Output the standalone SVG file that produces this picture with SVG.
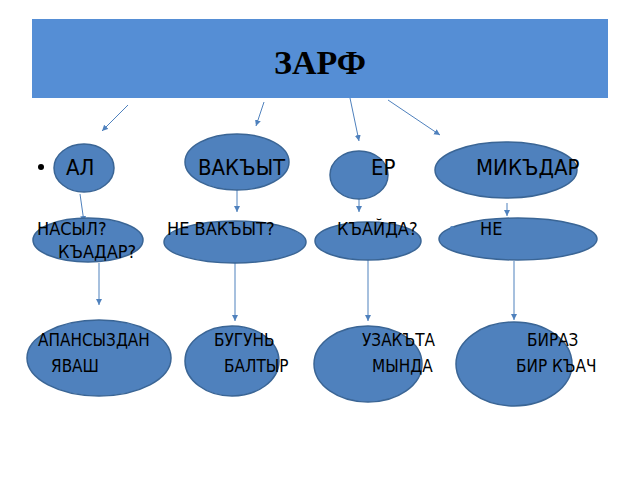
<svg xmlns="http://www.w3.org/2000/svg" width="640" height="480" viewBox="0 0 640 480">
<defs><marker id="a" markerWidth="8" markerHeight="8" refX="6" refY="3" orient="auto" markerUnits="userSpaceOnUse"><path d="M0,0 L6,3 L0,6z" fill="#4f81bd"/></marker></defs>
<style>
.n{fill:#4f81bd;stroke:#3a6595;stroke-width:1.5}
.t{font-family:"DejaVu Sans Condensed","DejaVu Sans",sans-serif;fill:#000}
.c line{stroke:#4f81bd;stroke-width:1;marker-end:url(#a)}
</style>
<rect width="640" height="480" fill="#fff"/>
<g id="title"><rect x="32" y="19" width="576" height="79" fill="#558ed5"/><text x="320" y="74" text-anchor="middle" font-family="Liberation Serif,serif" font-weight="bold" font-size="34">ЗАРФ</text></g>
<g class="c">
<line x1="128" y1="105" x2="102" y2="131"/><line x1="264" y1="102" x2="256" y2="126"/><line x1="350" y1="98" x2="359" y2="141"/><line x1="388" y1="100" x2="440" y2="135"/>
<line x1="80" y1="194" x2="84" y2="222"/><line x1="237" y1="190" x2="237" y2="212"/><line x1="359" y1="199" x2="359" y2="212"/><line x1="507" y1="203" x2="507" y2="216"/>
<line x1="99" y1="263" x2="99" y2="305"/><line x1="235" y1="263" x2="235" y2="321"/><line x1="368" y1="260" x2="368" y2="321"/><line x1="514" y1="261" x2="514" y2="320"/>
</g>
<g id="n1"><ellipse class="n" cx="84" cy="168" rx="30" ry="24"/></g>
<g id="n2"><ellipse class="n" cx="237" cy="162" rx="52" ry="28"/></g>
<g id="n3"><ellipse class="n" cx="359" cy="175" rx="29" ry="24"/></g>
<g id="n4"><ellipse class="n" cx="506" cy="170" rx="71" ry="28"/></g>
<g id="n5"><ellipse class="n" cx="88" cy="240" rx="55" ry="22"/></g>
<g id="n6"><ellipse class="n" cx="235" cy="242" rx="71" ry="21"/></g>
<g id="n7"><ellipse class="n" cx="368" cy="241" rx="53" ry="19"/></g>
<g id="n8"><ellipse class="n" cx="518" cy="239" rx="79" ry="21"/></g>
<g id="n9"><ellipse class="n" cx="99" cy="358" rx="72" ry="38"/></g>
<g id="n10"><ellipse class="n" cx="232" cy="361" rx="47" ry="35"/></g>
<g id="n11"><ellipse class="n" cx="368" cy="364" rx="54" ry="38"/></g>
<g id="n12"><ellipse class="n" cx="514" cy="364" rx="58" ry="42"/></g>
<g class="t" font-size="22">
<circle cx="41" cy="167" r="3" fill="#000"/>
<text x="66" y="175">АЛ</text><text x="198" y="175">ВАКЪЫТ</text><text x="371" y="175">ЕР</text><text x="476" y="175">МИКЪДАР</text>
</g>
<g class="t" font-size="18">
<text x="37" y="235">НАСЫЛ?</text><text x="167" y="235">НЕ ВАКЪЫТ?</text><text x="337" y="235">КЪАЙДА?</text><circle cx="452" cy="228" r="2" fill="#4f81bd"/><text x="480" y="235">НЕ</text><text x="58" y="258">КЪАДАР?</text>
</g>
<g class="t" font-size="17">
<text x="38" y="346">АПАНСЫЗДАН</text><text x="51" y="372">ЯВАШ</text>
<text x="214" y="346">БУГУНЬ</text><text x="224" y="372">БАЛТЫР</text>
<text x="362" y="346">УЗАКЪТА</text><text x="372" y="372">МЫНДА</text>
<text x="527" y="346">БИРАЗ</text><text x="516" y="372">БИР КЪАЧ</text>
</g>
</svg>
